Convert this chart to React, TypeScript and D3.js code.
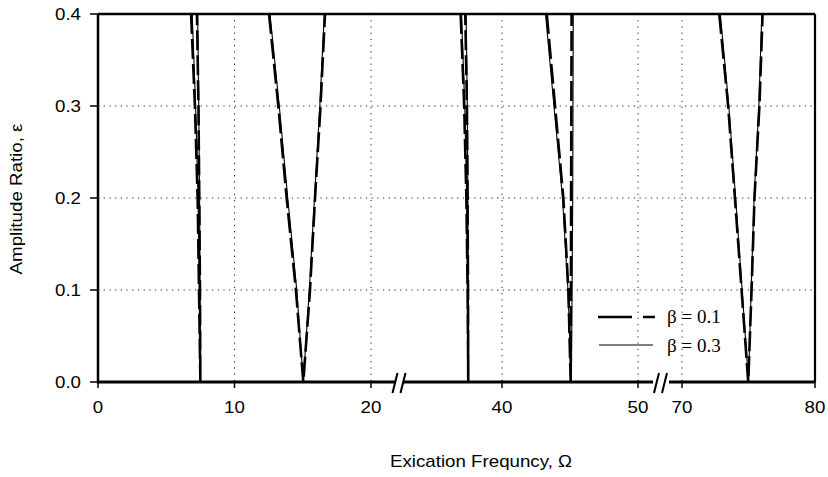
import React from "react";
import * as d3 from "d3";

const W = 828;
const H = 477;

// amplitude levels (epsilon) at which each tongue boundary is sampled
const epsLevels = [0, 0.1, 0.2, 0.3, 0.4];

// beta = 0.1 (dashed) tongue boundaries: frequency at each eps level
const b1T1L = [7.5, 7.4, 7.3, 7.1, 6.82];
const b1T1R = [7.5, 7.47, 7.42, 7.36, 7.25];
const b1T2L = [15.04, 14.5, 13.82, 13.21, 12.53];
const b1T2R = [15.04, 15.53, 15.9, 16.3, 16.63];
const b1T3L = [37.52, 37.47, 37.38, 37.22, 36.96];
const b1T3R = [37.52, 37.5, 37.47, 37.42, 37.3];
const b1T4L = [45.05, 44.88, 44.51, 43.9, 43.29];
const b1T4R = [45.05, 45.07, 45.08, 45.1, 45.12];
const b1T5L = [74.98, 74.48, 73.98, 73.47, 72.8];
const b1T5R = [75.0, 75.23, 75.45, 75.82, 76.06];

// beta = 0.3 (solid) tongue boundaries
const b3T1L = [7.5, 7.43, 7.33, 7.15, 6.9];
const b3T1R = [7.5, 7.48, 7.44, 7.38, 7.3];
const b3T2L = [15.04, 14.56, 13.9, 13.28, 12.6];
const b3T2R = [15.04, 15.48, 15.86, 16.25, 16.58];
const b3T3L = [37.52, 37.48, 37.4, 37.26, 37.02];
const b3T3R = [37.52, 37.51, 37.49, 37.45, 37.36];
const b3T4L = [45.1, 44.85, 44.45, 43.82, 43.2];
const b3T4R = [45.1, 45.15, 45.2, 45.22, 45.24];
const b3T5L = [75.0, 74.52, 74.03, 73.52, 72.88];
const b3T5R = [75.0, 75.2, 75.42, 75.78, 76.0];

const beta1Tongues = [
  [b1T1L, b1T1R],
  [b1T2L, b1T2R],
  [b1T3L, b1T3R],
  [b1T4L, b1T4R],
  [b1T5L, b1T5R],
];
const beta3Tongues = [
  [b3T1L, b3T1R],
  [b3T2L, b3T2R],
  [b3T3L, b3T3R],
  [b3T4L, b3T4R],
  [b3T5L, b3T5R],
];

// broken x axis segments
const seg1Ticks = [0, 10, 20];
const seg2Ticks = [40, 50];
const seg3Ticks = [70, 80];
const xGridValues = [10, 20, 40, 50, 70];
const yTicks = [0, 0.1, 0.2, 0.3, 0.4];
const yGridValues = [0.1, 0.2, 0.3];
const legendLabels = ["\u03b2 = 0.1", "\u03b2 = 0.3"];

const left = 98;
const right = 815;
const top = 14;
const bottom = 382;

const s1 = d3.scaleLinear().domain([0, 20]).range([98, 371]);
const s2 = d3.scaleLinear().domain([40, 50]).range([502, 638]);
const s3 = d3.scaleLinear().domain([70, 80]).range([682, 815]);
const segRanges: [number, number][] = [
  [98, 396],
  [403, 653],
  [669, 815],
];
const x = (v: number) => (v <= 28 ? s1(v) : v <= 60 ? s2(v) : s3(v));
const y = d3.scaleLinear().domain([0, 0.4]).range([bottom, top]);

const linePath = d3
  .line<[number, number]>()
  .x((d) => x(d[0]))
  .y((d) => y(d[1]));

function tonguePoints(L: number[], R: number[]): [number, number][] {
  const pts: [number, number][] = [];
  for (let i = epsLevels.length - 1; i >= 0; i--) pts.push([L[i], epsLevels[i]]);
  for (let i = 1; i < epsLevels.length; i++) pts.push([R[i], epsLevels[i]]);
  return pts;
}

const sans = "'Liberation Sans', Arial, sans-serif";
const serif = "'Liberation Serif', 'Times New Roman', serif";
const SX = 1.17; // horizontal stretch of the sans text

export default function App() {
  const allTicks = [...seg1Ticks, ...seg2Ticks, ...seg3Ticks];
  const breaks = [399.5, 661];
  return (
    <div style={{ position: "fixed", left: 0, top: 0, width: W, height: H, background: "#fff" }}>
      <svg width={W} height={H} viewBox={`0 0 ${W} ${H}`} style={{ display: "block" }}>
        <rect x={0} y={0} width={W} height={H} fill="#fff" />
        <defs>
          <clipPath id="plot">
            <rect x={left} y={top} width={right - left} height={bottom - top} />
          </clipPath>
        </defs>
        {/* grid */}
        {yGridValues.map((v) => (
          <line
            key={"hg" + v}
            x1={left}
            x2={right}
            y1={y(v)}
            y2={y(v)}
            stroke="#222"
            strokeWidth={1}
            strokeDasharray="1.2,4.5"
          />
        ))}
        {xGridValues.map((v) => (
          <line
            key={"vg" + v}
            x1={x(v)}
            x2={x(v)}
            y1={top}
            y2={bottom}
            stroke="#222"
            strokeWidth={1}
            strokeDasharray="1.2,5"
          />
        ))}
        {/* curves */}
        <g clipPath="url(#plot)" fill="none" stroke="#000">
          {beta3Tongues.map(([L, R], i) => (
            <path key={"b3" + i} d={linePath(tonguePoints(L, R)) || ""} strokeWidth={1.1} />
          ))}
          {beta1Tongues.map(([L, R], i) => (
            <path
              key={"b1" + i}
              d={linePath(tonguePoints(L, R)) || ""}
              strokeWidth={2.6}
              strokeDasharray="20,5"
            />
          ))}
        </g>
        {/* frame */}
        <line x1={left} x2={right} y1={top} y2={top} stroke="#000" strokeWidth={2.5} />
        <line x1={right} x2={right} y1={top} y2={bottom} stroke="#000" strokeWidth={2.2} />
        <line x1={left} x2={left} y1={top} y2={bottom + 1.5} stroke="#000" strokeWidth={2.5} />
        {segRanges.map(([a, b], i) => (
          <line key={"ax" + i} x1={a} x2={b} y1={bottom} y2={bottom} stroke="#000" strokeWidth={2.8} />
        ))}
        {breaks.map((bx, i) => (
          <g key={"br" + i} stroke="#000" strokeWidth={2}>
            <line x1={bx - 7} y1={bottom + 11} x2={bx - 2} y2={bottom - 9} />
            <line x1={bx + 1} y1={bottom + 11} x2={bx + 6} y2={bottom - 9} />
          </g>
        ))}
        {/* x ticks */}
        {allTicks.map((v) => (
          <g key={"xt" + v}>
            <line x1={x(v)} x2={x(v)} y1={bottom} y2={bottom + 6} stroke="#000" strokeWidth={1.5} />
            <text
              transform={`translate(${x(v)},413) scale(${SX},1)`}
              textAnchor="middle"
              fontFamily={sans}
              fontSize={16}
              fill="#000"
            >
              {v}
            </text>
          </g>
        ))}
        {/* y ticks */}
        {yTicks.map((v) => (
          <g key={"yt" + v}>
            <line x1={left - 8} x2={left} y1={y(v)} y2={y(v)} stroke="#000" strokeWidth={1.5} />
            <text
              transform={`translate(81,${y(v) + 5.5}) scale(${SX},1)`}
              textAnchor="end"
              fontFamily={sans}
              fontSize={16}
              fill="#000"
            >
              {v.toFixed(1)}
            </text>
          </g>
        ))}
        {/* axis titles */}
        <text
          transform={`translate(22,199) rotate(-90) scale(${SX},1)`}
          textAnchor="middle"
          fontFamily={sans}
          fontSize={16}
          fill="#000"
        >
          Amplitude Ratio, {"\u03b5"}
        </text>
        <text
          transform={`translate(481,467) scale(${SX},1)`}
          textAnchor="middle"
          fontFamily={sans}
          fontSize={16}
          fill="#000"
        >
          Exication Frequncy, {"\u03a9"}
        </text>
        {/* legend */}
        <line
          x1={598}
          x2={655}
          y1={317}
          y2={317}
          stroke="#000"
          strokeWidth={2.4}
          strokeDasharray="34,11,12,100"
        />
        <line x1={599} x2={653} y1={345} y2={345} stroke="#000" strokeWidth={1.1} />
        <text x={667} y={323} fontFamily={serif} fontSize={19} fill="#000">
          {legendLabels[0]}
        </text>
        <text x={667} y={352} fontFamily={serif} fontSize={19} fill="#000">
          {legendLabels[1]}
        </text>
      </svg>
    </div>
  );
}
